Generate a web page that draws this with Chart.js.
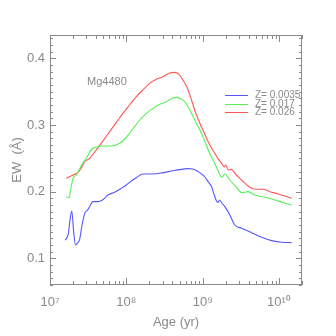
<!DOCTYPE html>
<html>
<head>
<meta charset="utf-8">
<script src="https://cdn.jsdelivr.net/npm/chart.js@4.4.1/dist/chart.umd.min.js"></script>
<style>
  html, body { margin: 0; padding: 0; background: #fff; }
</style>
</head>
<body>
<canvas id="EwChart" width="336" height="336"></canvas>
<script>
// Mg4480 equivalent width vs age, three metallicities
const ageLowZ = [1.58e7, 1.74e7, 1.84e7, 1.93e7, 2.04e7, 2.16e7, 2.29e7, 2.44e7, 2.63e7, 2.84e7,
  3.13e7, 3.39e7, 3.65e7, 4.24e7, 4.93e7, 5.74e7, 7.02e7, 8.59e7, 1.0e8, 1.1e8,
  1.35e8, 1.65e8, 2.23e8, 3.02e8, 4.09e8, 5.27e8, 6.31e8, 7.41e8, 8.51e8, 9.55e8,
  1.07e9, 1.18e9, 1.3e9, 1.41e9, 1.52e9, 1.58e9, 1.67e9, 1.78e9, 1.95e9, 2.27e9,
  2.64e9, 3.23e9, 4.37e9, 5.92e9, 8.0e9, 1.08e10, 1.46e10];
const ewLowZ = [0.127, 0.137, 0.160, 0.171, 0.140, 0.120, 0.123, 0.128, 0.150, 0.167,
  0.173, 0.180, 0.185, 0.185, 0.188, 0.195, 0.199, 0.205, 0.210, 0.214,
  0.221, 0.2265, 0.2265, 0.2285, 0.2315, 0.2335, 0.2345, 0.234, 0.231, 0.227,
  0.222, 0.215, 0.208, 0.196, 0.186, 0.184, 0.1876, 0.183, 0.1775, 0.165,
  0.150, 0.145, 0.1385, 0.1316, 0.1266, 0.1241, 0.1236];

const ageMidZ = [1.63e7, 1.8e7, 1.84e7, 1.9e7, 2.0e7, 2.21e7, 2.44e7, 2.69e7, 2.99e7, 3.3e7,
  3.55e7, 3.84e7, 4.7e7, 6.35e7, 8.17e7, 9.55e7, 1.1e8, 1.29e8, 1.5e8, 1.82e8,
  2.23e8, 2.75e8, 3.35e8, 3.98e8, 4.53e8, 5.25e8, 6.03e8, 7.13e8, 8.32e8, 9.64e8,
  1.07e9, 1.18e9, 1.3e9, 1.44e9, 1.58e9, 1.77e9, 1.86e9, 1.95e9, 2.27e9, 2.77e9,
  3.23e9, 3.94e9, 4.83e9, 6.53e9, 8.83e9, 1.14e10, 1.46e10];
const ewMidZ = [0.1916, 0.1916, 0.200, 0.2075, 0.220, 0.225, 0.234, 0.2425, 0.250, 0.259,
  0.264, 0.266, 0.2685, 0.2685, 0.2725, 0.279, 0.2875, 0.298, 0.3075, 0.317,
  0.325, 0.331, 0.335, 0.340, 0.3415, 0.339, 0.333, 0.3175, 0.302, 0.2875,
  0.275, 0.2625, 0.252, 0.2426, 0.232, 0.2216, 0.224, 0.2265, 0.2175, 0.2066,
  0.1985, 0.200, 0.195, 0.1916, 0.1876, 0.1835, 0.180];

const ageHighZ = [1.63e7, 2.0e7, 2.32e7, 2.56e7, 2.84e7, 3.3e7, 4.04e7, 5.01e7, 6.04e7, 7.41e7,
  9.02e7, 1.1e8, 1.35e8, 1.66e8, 2.02e8, 2.51e8, 3.02e8, 3.7e8, 4.27e8, 4.9e8,
  5.62e8, 6.31e8, 7.08e8, 7.94e8, 9.16e8, 1.05e9, 1.18e9, 1.3e9, 1.44e9, 1.58e9,
  1.77e9, 1.91e9, 2.01e9, 2.09e9, 2.16e9, 2.34e9, 2.77e9, 3.4e9, 4.15e9, 5.08e9,
  6.21e9, 7.6e9, 9.77e9, 1.46e10];
const ewHighZ = [0.220, 0.225, 0.2285, 0.235, 0.245, 0.250, 0.2625, 0.277, 0.290, 0.304,
  0.3175, 0.330, 0.3425, 0.353, 0.3625, 0.369, 0.3725, 0.378, 0.379, 0.376,
  0.366, 0.355, 0.339, 0.321, 0.303, 0.288, 0.275, 0.266, 0.2575, 0.250,
  0.2425, 0.237, 0.240, 0.236, 0.2325, 0.2335, 0.225, 0.215, 0.2066, 0.2036,
  0.2036, 0.200, 0.1966, 0.190];

const seriesLabels = ["Z= 0.0035", "Z= 0.017", "Z= 0.026"];
const seriesColors = ["#5656ff", "#56f056", "#ff5656"];

const xMajorTicks = [1e7, 1e8, 1e9, 1e10];
const xTickLabels = ["10\u2077", "10\u2078", "10\u2079", "10\u00b9\u2070"];
const yMajorTicks = [0.1, 0.2, 0.3, 0.4];
const yTickLabels = ["0.1", "0.2", "0.3", "0.4"];

const textColor = "#8a8a8a";
const axisColor = "#8a8a8a";
const fontFamily = "'Liberation Sans Narrow', 'Liberation Sans', Arial, sans-serif";

function pairs(xs, ys) {
  return xs.map(function (x, i) {
    return { x: x, y: ys[i] };
  });
}

function findLabel(value, majors, labels) {
  for (let i = 0; i < majors.length; i++) {
    if (Math.abs(value - majors[i]) < majors[i] * 1e-6) return labels[i];
  }
  return "";
}

// IDL-style frame: box on all sides with inward ticks, in-plot legend and label
const frameTicks = {
  id: "frameTicks",
  afterDatasetsDraw(chart) {
    const { ctx, chartArea: a, scales } = chart;
    ctx.save();
    ctx.strokeStyle = axisColor;
    ctx.lineWidth = 1;
    ctx.strokeRect(a.left + 0.5, a.top + 0.5, a.right - a.left - 1, a.bottom - a.top - 1);

    ctx.beginPath();
    scales.x.ticks.forEach(function (t) {
      const px = Math.round(scales.x.getPixelForValue(t.value)) + 0.5;
      const len = findLabel(t.value, xMajorTicks, xTickLabels) ? 7 : 4;
      ctx.moveTo(px, a.bottom);
      ctx.lineTo(px, a.bottom - len);
      ctx.moveTo(px, a.top);
      ctx.lineTo(px, a.top + len);
    });
    scales.y.ticks.forEach(function (t) {
      const py = Math.round(scales.y.getPixelForValue(t.value)) + 0.5;
      const len = findLabel(t.value, yMajorTicks, yTickLabels) ? 6 : 3;
      ctx.moveTo(a.left, py);
      ctx.lineTo(a.left + len, py);
      ctx.moveTo(a.right, py);
      ctx.lineTo(a.right - len, py);
    });
    ctx.stroke();

    ctx.fillStyle = textColor;
    ctx.textBaseline = "middle";
    ctx.textAlign = "left";
    ctx.font = "11px " + fontFamily;
    ctx.fillText("Mg4480", a.left + 37, a.top + 47);

    ctx.font = "10px " + fontFamily;
    chart.data.datasets.forEach(function (ds, i) {
      const y = Math.round(a.top + 60 + i * 8.7) + 0.5;
      ctx.strokeStyle = ds.borderColor;
      ctx.beginPath();
      ctx.moveTo(a.left + 175, y);
      ctx.lineTo(a.left + 198, y);
      ctx.stroke();
      ctx.fillText(ds.label, a.left + 205, y);
    });
    ctx.restore();
  },
};

const ctx = document.getElementById("EwChart");

new Chart(ctx, {
  type: "line",
  data: {
    datasets: [
      { label: seriesLabels[0], data: pairs(ageLowZ, ewLowZ), borderColor: seriesColors[0] },
      { label: seriesLabels[1], data: pairs(ageMidZ, ewMidZ), borderColor: seriesColors[1] },
      { label: seriesLabels[2], data: pairs(ageHighZ, ewHighZ), borderColor: seriesColors[2] },
    ],
  },
  options: {
    responsive: false,
    animation: false,
    layout: { padding: { top: 35, right: 34, left: 0, bottom: 0 } },
    elements: {
      point: { radius: 0 },
      line: { borderWidth: 1.1, cubicInterpolationMode: "monotone", fill: false },
    },
    plugins: {
      legend: { display: false },
      tooltip: { enabled: false },
    },
    scales: {
      x: {
        type: "logarithmic",
        min: 1e7,
        max: 2e10,
        grid: { display: false, drawTicks: false },
        border: { display: false },
        afterBuildTicks: function (scale) {
          const list = [];
          for (let e = 7; e <= 10; e++) {
            for (let k = 1; k <= 9; k++) {
              const v = k * Math.pow(10, e);
              if (v <= 2e10) list.push({ value: v });
            }
          }
          scale.ticks = list;
        },
        afterFit: function (scale) {
          scale.height = 51;
        },
        ticks: {
          autoSkip: false,
          maxRotation: 0,
          padding: 10,
          color: textColor,
          font: { family: fontFamily, size: 13 },
          callback: function (value) {
            return findLabel(value, xMajorTicks, xTickLabels);
          },
        },
        title: {
          display: true,
          text: "Age (yr)",
          color: textColor,
          font: { family: fontFamily, size: 13 },
          padding: { top: 0, bottom: 6 },
        },
      },
      y: {
        type: "linear",
        min: 0.06,
        max: 0.435,
        grid: { display: false, drawTicks: false },
        border: { display: false },
        afterBuildTicks: function (scale) {
          const list = [];
          for (let i = 6; i <= 43; i++) list.push({ value: i / 100 });
          scale.ticks = list;
        },
        afterFit: function (scale) {
          scale.width = 50;
        },
        ticks: {
          autoSkip: false,
          padding: 5,
          color: textColor,
          font: { family: fontFamily, size: 13 },
          callback: function (value) {
            return findLabel(value, yMajorTicks, yTickLabels);
          },
        },
        title: {
          display: true,
          text: "EW  (\u00c5)",
          color: textColor,
          font: { family: fontFamily, size: 13 },
          padding: { top: 10, bottom: 0 },
        },
      },
    },
  },
  plugins: [frameTicks],
});
</script>
</body>
</html>
